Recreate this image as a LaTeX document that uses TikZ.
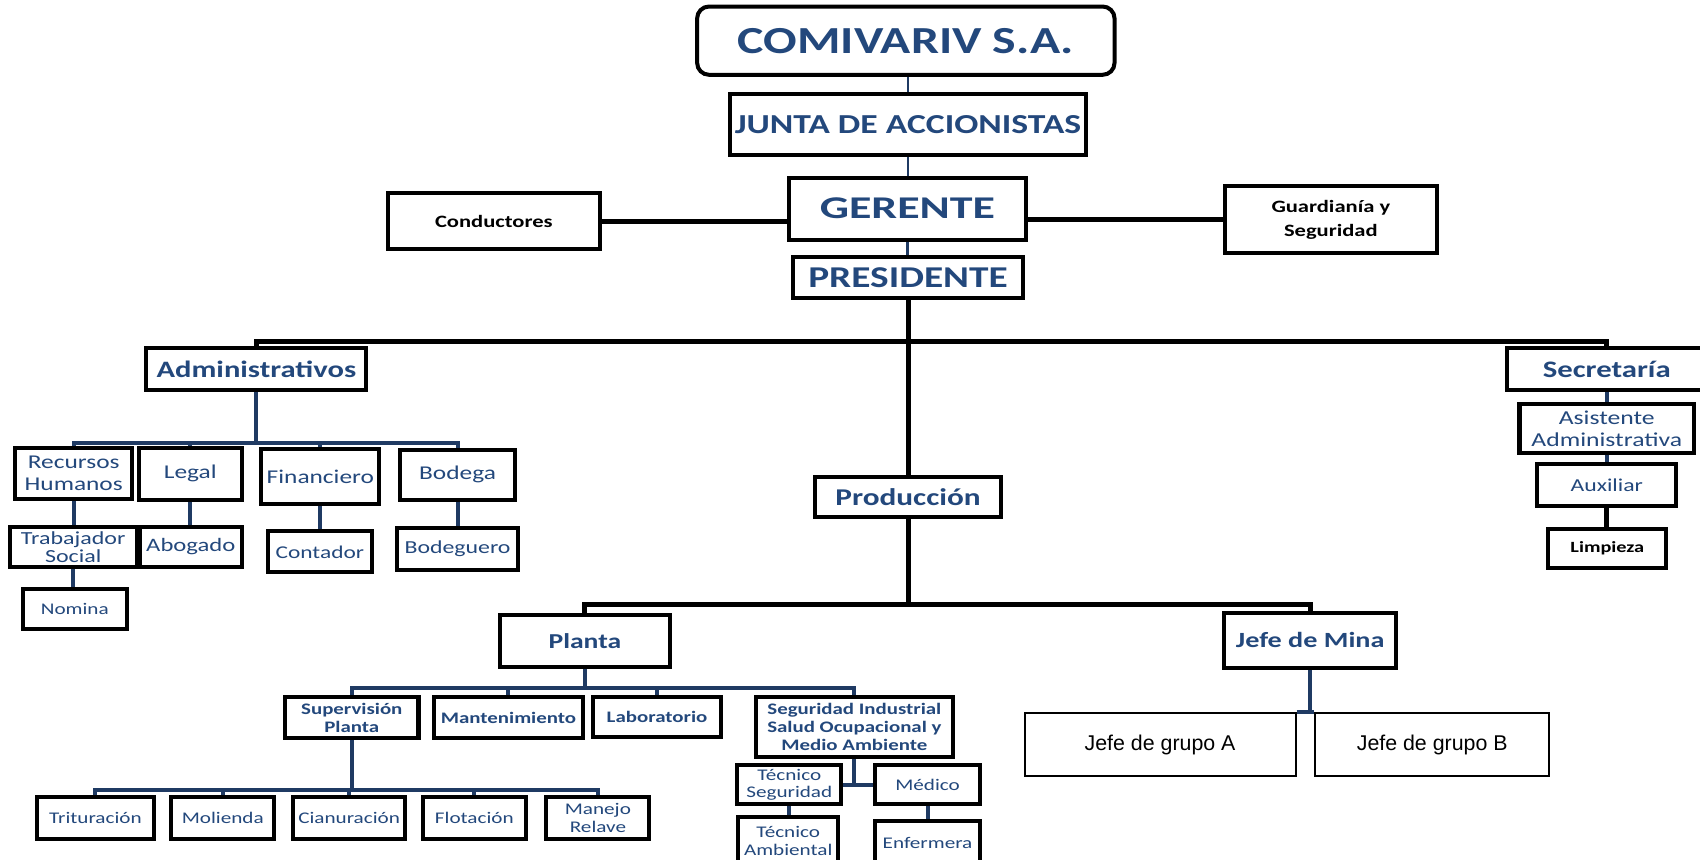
\documentclass[tikz,border=0pt]{standalone}
\usepackage{fontspec}
\setmainfont{Carlito}[FakeStretch=1.3]
\newfontfamily\gerfont{Carlito}[FakeStretch=1.45]
\newfontfamily\arialf{Liberation Sans}
\definecolor{tblue}{RGB}{35,72,124}
\definecolor{lblue}{RGB}{31,58,99}
\newcommand{\fs}[2]{\fontsize{#1pt}{#2pt}\selectfont}
\begin{document}
\begin{tikzpicture}[x=1pt,y=-1pt,
  box/.style={draw=black,line width=3.7pt,fill=white,inner sep=0pt,align=center,text=tblue},
  thinbox/.style={draw=black,line width=1.8pt,fill=white,inner sep=0pt,align=center,text=black,font=\arialf\fs{19.7}{22}},
  blk/.style={draw=black,line width=4.6pt},
  bl/.style={draw=lblue,line width=3.7pt},
  blt/.style={draw=lblue,line width=2.6pt}]
\useasboundingbox (0,0) rectangle (1568,793);
% top
\node[box,rounded corners=11pt,minimum width=385pt,minimum height=63pt,font=\fs{35.3}{40}\bfseries] (comi) at (835.5,37.5) {COMIVARIV S.A.};
\node[box,minimum width=329pt,minimum height=56pt,font=\fs{25.3}{28}\bfseries] (junta) at (837.5,115) {JUNTA DE ACCIONISTAS};
\node[box,minimum width=218pt,minimum height=57pt,font=\gerfont\fs{29.2}{32}\bfseries] (ger) at (837,192.5) {GERENTE};
\node[box,minimum width=195pt,minimum height=52pt,text=black,font=\fs{16}{22}\bfseries] (cond) at (455.5,204) {Conductores};
\node[box,minimum width=195pt,minimum height=61pt,text=black,font=\fs{16}{22}\bfseries] (guard) at (1227.5,202.5) {Guardianía y\\Seguridad};
\node[box,minimum width=213pt,minimum height=38pt,font=\fs{27.9}{30}\bfseries] (pres) at (837.5,256) {PRESIDENTE};
% second level
\node[box,minimum width=203pt,minimum height=39pt,font=\fs{21.7}{24}\bfseries] (adm) at (236.5,340.5) {Administrativos};
\node[box,minimum width=184pt,minimum height=39pt,font=\fs{21.8}{24}\bfseries] (sec) at (1482,340.5) {Secretaría};
\node[box,minimum width=171pt,minimum height=37pt,font=\fs{22.2}{24}\bfseries] (prod) at (837.5,458.5) {Producción};
% secretaria chain
\node[box,minimum width=161pt,minimum height=45pt,font=\fs{18.2}{20.6}] (asis) at (1482,395.5) {Asistente\\Administrativa};
\node[box,minimum width=128pt,minimum height=39pt,font=\fs{16.8}{18}] (aux) at (1482,447.5) {Auxiliar};
\node[box,minimum width=109pt,minimum height=36pt,text=black,font=\fs{14.4}{16}\bfseries] (limp) at (1482.5,506) {Limpieza};
% administrativos
\node[box,minimum width=108pt,minimum height=47pt,font=\fs{18}{20}] (rh) at (68,436.5) {Recursos\\Humanos};
\node[box,minimum width=95pt,minimum height=48pt,font=\fs{18}{20}] (leg) at (175.5,437) {Legal};
\node[box,minimum width=109pt,minimum height=51pt,font=\fs{18}{20}] (fin) at (295.5,439.5) {Financiero};
\node[box,minimum width=106pt,minimum height=46pt,font=\fs{18}{20}] (bod) at (422,438) {Bodega};
\node[box,minimum width=117pt,minimum height=37pt,font=\fs{17}{16.6}] (trab) at (67.5,504.5) {Trabajador\\Social};
\node[box,minimum width=94pt,minimum height=37pt,font=\fs{17.5}{18}] (abo) at (176,504.5) {Abogado};
\node[box,minimum width=96pt,minimum height=38pt,font=\fs{16.6}{18}] (cont) at (295,509) {Contador};
\node[box,minimum width=112pt,minimum height=39pt,font=\fs{16.9}{18}] (bodg) at (422,506.5) {Bodeguero};
\node[box,minimum width=96pt,minimum height=37pt,font=\fs{15}{16}] (nom) at (69,561.5) {Nomina};
% produccion
\node[box,minimum width=157pt,minimum height=48pt,font=\fs{19.6}{22}\bfseries] (planta) at (539.5,591) {Planta};
\node[box,minimum width=159pt,minimum height=51pt,font=\fs{20}{22}\bfseries] (jm) at (1208.5,590.5) {Jefe de Mina};
\node[thinbox,minimum width=250pt,minimum height=58pt] (ja) at (1070,687) {Jefe de grupo A};
\node[thinbox,minimum width=216pt,minimum height=58pt] (jb) at (1321,687) {\raisebox{4pt}{Jefe de grupo B}};
\node[box,minimum width=123pt,minimum height=38pt,font=\fs{14.8}{16.3}\bfseries] (sup) at (324.5,662) {Supervisión\\Planta};
\node[box,minimum width=137pt,minimum height=38pt,font=\fs{14.8}{16.3}\bfseries] (mant) at (469,662) {Mantenimiento};
\node[box,minimum width=118pt,minimum height=37pt,font=\fs{14.8}{16.3}\bfseries] (lab) at (606,661.5) {Laboratorio};
\node[box,minimum width=182pt,minimum height=55pt,font=\fs{14.8}{16.3}\bfseries] (seg) at (788,670.5) {Seguridad Industrial\\Salud Ocupacional y\\Medio Ambiente};
\node[box,minimum width=108pt,minimum height=39pt,font=\fs{15}{16.3}] (trit) at (88,754.5) {Trituración};
\node[box,minimum width=95pt,minimum height=39pt,font=\fs{15}{16.3}] (mol) at (205.5,754.5) {Molienda};
\node[box,minimum width=104pt,minimum height=39pt,font=\fs{15}{16.3}] (cia) at (322,754.5) {Cianuración};
\node[box,minimum width=95pt,minimum height=39pt,font=\fs{15}{16.3}] (flo) at (437.5,754.5) {Flotación};
\node[box,minimum width=95pt,minimum height=39pt,font=\fs{15}{16.3}] (man) at (551.5,754.5) {Manejo\\Relave};
\node[box,minimum width=96pt,minimum height=36pt,font=\fs{15}{16.3}] (tsec) at (728,724) {Técnico\\Seguridad};
\node[box,minimum width=97pt,minimum height=36pt,font=\fs{15}{16.3}] (med) at (855.5,724) {Médico};
\node[box,minimum width=92pt,minimum height=43pt,font=\fs{15}{16.3}] (tamb) at (727,775.5) {Técnico\\Ambiental};
\node[box,minimum width=97pt,minimum height=41pt,font=\fs{15}{16.3}] (enf) at (855.5,777.5) {Enfermera};
% connectors top
\draw[blt] (junta.north |- comi.south) -- (junta.north);
\draw[blt] (junta.south) -- (junta.south |- ger.north);
\draw[blt] (ger.south) -- (ger.south |- pres.north);
\draw[blk] (cond.east) -- (cond.east -| ger.west);
\draw[blk] (ger.east |- guard.west) -- (guard.west);
\coordinate (b1) at (838,315);
\draw[blk] (pres.south) -- (prod.north);
\draw[blk] (adm.north) |- (b1) -| (sec.north);
\coordinate (b2) at (837.5,558);
\draw[blk] (prod.south) -- (b2);
\draw[blk] (planta.north) |- (b2) -| (jm.north);
% administrativos
\coordinate (ab) at (236.5,408.5);
\draw[bl] (adm.south) -- (ab);
\draw[bl] (rh.north) |- (ab) -| (bod.north);
\draw[bl] (leg.north) -- (leg.north |- ab);
\draw[bl] (fin.north) -- (fin.north |- ab);
\draw[bl] (rh.south) -- (rh.south |- trab.north);
\draw[bl] (trab.south) -- (trab.south |- nom.north);
\draw[bl] (leg.south) -- (leg.south |- abo.north);
\draw[bl] (fin.south) -- (fin.south |- cont.north);
\draw[bl] (bod.south) -- (bod.south |- bodg.north);
% secretaria
\draw[bl] (sec.south) -- (asis.north);
\draw[bl] (asis.south) -- (aux.north);
\draw[blk] (aux.south) -- (aux.south |- limp.north);
% planta
\coordinate (pb) at (539.5,635);
\draw[bl] (planta.south) -- (pb);
\draw[bl] (sup.north) |- (pb) -| (seg.north);
\draw[bl] (mant.north) -- (mant.north |- pb);
\draw[bl] (lab.north) -- (lab.north |- pb);
\coordinate (sb) at (324.5,729);
\draw[bl] (sup.south) -- (sb);
\draw[bl] (trit.north) |- (sb) -| (man.north);
\draw[bl] (mol.north) -- (mol.north |- sb);
\draw[bl] (cia.north) -- (cia.north |- sb);
\draw[bl] (flo.north) -- (flo.north |- sb);
\draw[bl] (seg.south) -- (seg.south |- tsec.east);
\draw[bl] (tsec.east) -- (med.west);
\draw[bl] (tsec.south) -- (tsec.south |- tamb.north);
\draw[bl] (med.south) -- (med.south |- enf.north);
% jefe de mina
\draw[bl] (jm.south) -- (jm.south |- jb.north west);
\draw[bl] (ja.north east) -- (jb.north west);
\end{tikzpicture}
\end{document}
